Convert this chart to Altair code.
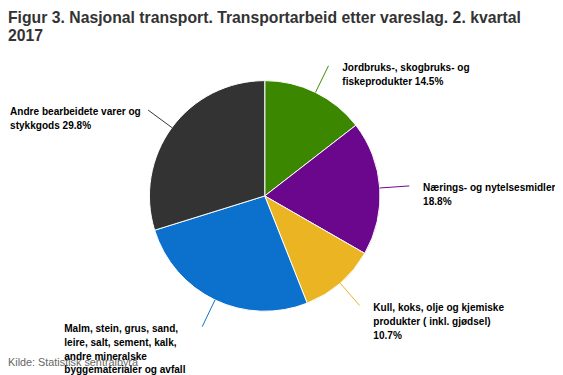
import altair as alt
import pandas as pd

# ---- data ----
categories = [
    "Jordbruks-, skogbruks- og fiskeprodukter",
    "Nærings- og nytelsesmidler",
    "Kull, koks, olje og kjemiske produkter ( inkl. gjødsel)",
    "Malm, stein, grus, sand, leire, salt, sement, kalk, andre mineralske byggematerialer og avfall",
    "Andre bearbeidete varer og stykkgods",
]
values = [14.5, 18.8, 10.7, 26.2, 29.8]
label_lines = [
    ["Jordbruks-, skogbruks- og", "fiskeprodukter 14.5%"],
    ["Nærings- og nytelsesmidler", "18.8%"],
    ["Kull, koks, olje og kjemiske", "produkter ( inkl. gjødsel)", "10.7%"],
    ["Malm, stein, grus, sand,", "leire, salt, sement, kalk,", "andre mineralske",
     "byggematerialer og avfall", "26.2%"],
    ["Andre bearbeidete varer og", "stykkgods 29.8%"],
]
colors = ["#3b8800", "#6b078c", "#eab422", "#0b71cc", "#333333"]
title_lines = ["Figur 3. Nasjonal transport. Transportarbeid etter vareslag. 2. kvartal", "2017"]
source = "Kilde: Statistisk sentralbyrå"

# ---- layout / style parameters ----
W, H = 555, 367
CX, CY, R = 260.5, 188.0, 117.0
CONN = 30      # connector length
GAP_R = 14     # gap between connector end and label (right side)
GAP_L = 10     # gap between connector end and label (left side)
CHARW = 5.0    # rough bold-label character width for left-side labels
FS = 10.2

df = pd.DataFrame({
    "cat": categories,
    "value": values,
    "idx": list(range(len(values))),
    "label": ["\n".join(l) for l in label_lines],
    "w": [max(len(s) for s in l) * CHARW for l in label_lines],
})

color = alt.Color("cat:N", scale=alt.Scale(domain=categories, range=colors), legend=None)

base = alt.Chart(df)

arcs = base.mark_arc(stroke="white", strokeWidth=1).encode(
    theta=alt.Theta("value:Q", stack=True),
    order=alt.Order("idx:Q"),
    color=color,
    x=alt.value(CX),
    y=alt.value(CY),
    radius=alt.value(R),
)

geo = base.transform_joinaggregate(
    total="sum(value)"
).transform_window(
    cum="sum(value)", sort=[alt.SortField("idx")], frame=[None, 0]
).transform_calculate(
    mid="(datum.cum - datum.value/2)/datum.total*2*PI"
).transform_calculate(
    ex=f"{CX} + {R}*sin(datum.mid)",
    ey=f"{CY} - {R}*cos(datum.mid)",
    ox=f"{CX} + {R + CONN}*sin(datum.mid)",
    oy=f"{CY} - {R + CONN}*cos(datum.mid)",
).transform_calculate(
    tx=f"sin(datum.mid) >= 0 ? datum.ox + {GAP_R} : datum.ox - {GAP_L} - datum.w",
    ty="datum.oy - 2.5",
)

rules = geo.mark_rule(strokeWidth=1).encode(
    x=alt.X("ex:Q", scale=None, axis=None),
    y=alt.Y("ey:Q", scale=None, axis=None),
    x2="ox:Q",
    y2="oy:Q",
    color=color,
)

src = alt.Chart(pd.DataFrame({"t": [source]})).mark_text(
    align="left", baseline="middle", fontSize=11, font="Liberation Sans", color="#666666"
).encode(x=alt.value(0), y=alt.value(358), text="t:N")

labels = geo.mark_text(
    align="left", baseline="top", lineBreak="\n", fontSize=FS, fontWeight="bold",
    font="Liberation Sans", color="#000000", lineHeight=14,
).encode(
    x=alt.X("tx:Q", scale=None, axis=None),
    y=alt.Y("ty:Q", scale=None, axis=None),
    text="label:N",
)

chart = alt.layer(arcs, rules, src, labels).properties(
    width=W,
    height=H,
    padding=0,
    autosize=alt.AutoSizeParams(type="none"),
    title=alt.Title(
        title_lines, anchor="start", fontSize=16, font="Liberation Sans",
        fontWeight="bold", color="#333333", lineHeight=18, baseline="alphabetic",
        offset=-47,
    ),
).configure_view(stroke=None)

chart.save("out.html", embed_options={"renderer": "svg", "actions": False})
